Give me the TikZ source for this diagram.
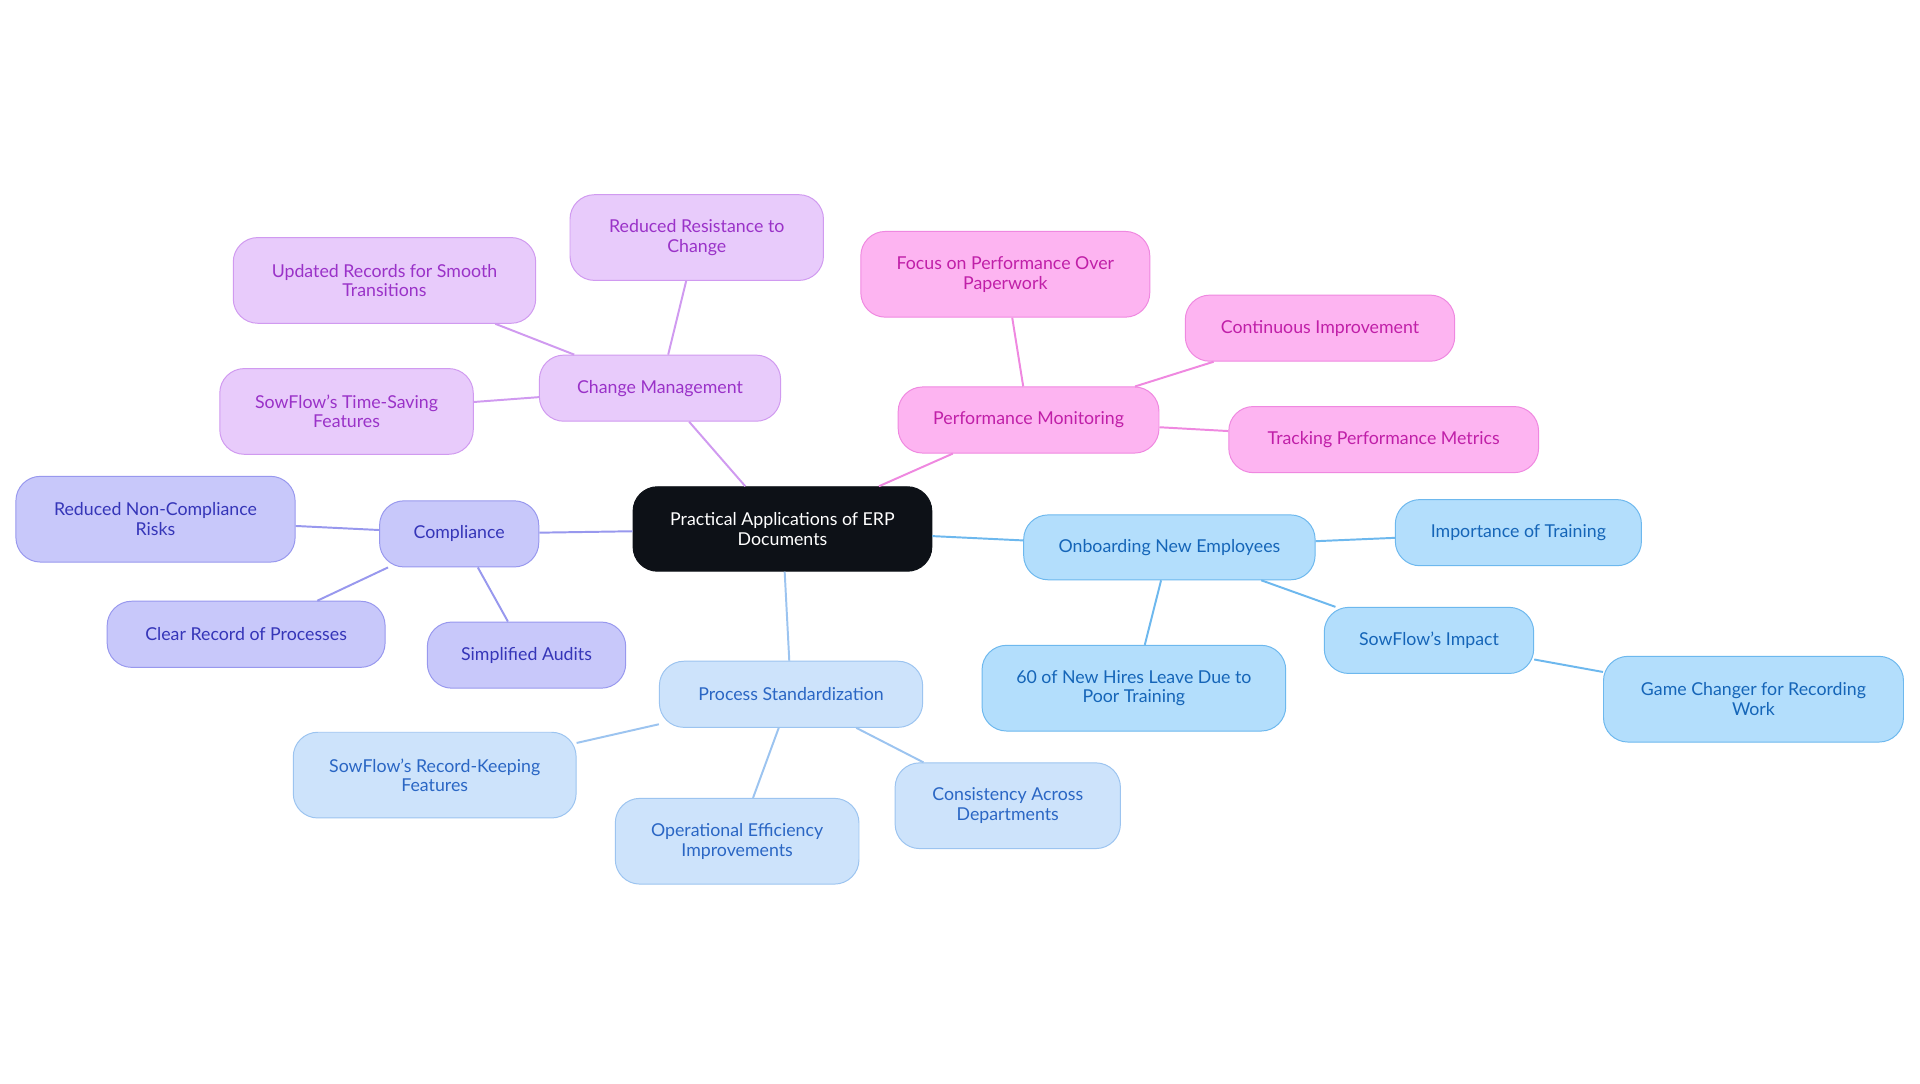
\documentclass[tikz,border=0pt]{standalone}
\usepackage{fontspec}
\setmainfont{Lato}
\usetikzlibrary{backgrounds}
\definecolor{cblk}{HTML}{0D1117}
\definecolor{obF}{HTML}{B3DEFC}\definecolor{obD}{HTML}{6DB8EE}\definecolor{obT}{HTML}{1565B8}
\definecolor{psF}{HTML}{CDE3FB}\definecolor{psD}{HTML}{9CC4F0}\definecolor{psT}{HTML}{2A66C4}
\definecolor{coF}{HTML}{C8C8FA}\definecolor{coD}{HTML}{9898EE}\definecolor{coT}{HTML}{3535B8}
\definecolor{cmF}{HTML}{E8CBFB}\definecolor{cmD}{HTML}{D09AF0}\definecolor{cmT}{HTML}{9A32C8}
\definecolor{pmF}{HTML}{FDB4F1}\definecolor{pmD}{HTML}{EF88E0}\definecolor{pmT}{HTML}{C01FA8}
\tikzset{
 x=1pt,y=-1pt,
 box/.style={rounded corners=20pt,align=center,font=\fontsize{14.5}{16}\selectfont,inner sep=0pt,line width=0.8pt},
 obx/.style={box,fill=obF,draw=obD,text=obT},
 psx/.style={box,fill=psF,draw=psD,text=psT},
 cox/.style={box,fill=coF,draw=coD,text=coT},
 cmx/.style={box,fill=cmF,draw=cmD,text=cmT},
 pmx/.style={box,fill=pmF,draw=pmD,text=pmT},
 edg/.style={line width=1.6pt},
}
\newcommand{\bx}[6]{\node[#1,minimum width=#4pt,minimum height=#5pt] (#2) at (#3) {#6};}
\begin{document}
\begin{tikzpicture}
\fill[white] (0,0) rectangle (1568,884.5);
\useasboundingbox (0,0) rectangle (1568,884.5);
\bx{box,fill=cblk,draw=cblk,text=white}{c}{639,432}{244}{69}{Practical Applications of ERP\\Documents}
\bx{obx}{ob}{955,447}{238}{53}{Onboarding New Employees}
\bx{obx}{ob1}{1240,435}{201}{54}{Importance of Training}
\bx{obx}{ob2}{1167,523}{171}{54}{SowFlow's Impact}
\bx{obx}{ob3}{1432,571}{245}{70}{Game Changer for Recording\\Work}
\bx{obx}{ob4}{926,562}{248}{70}{60 of New Hires Leave Due to\\Poor Training}
\bx{psx}{ps}{646,567}{215}{54}{Process Standardization}
\bx{psx}{ps1}{355,633}{231}{70}{SowFlow's Record-Keeping\\Features}
\bx{psx}{ps2}{602,687}{199}{70}{Operational Efficiency\\Improvements}
\bx{psx}{ps3}{823,658}{184}{70}{Consistency Across\\Departments}
\bx{cox}{co}{375,436}{130}{54}{Compliance}
\bx{cox}{co1}{127,424}{228}{70}{Reduced Non-Compliance\\Risks}
\bx{cox}{co2}{201,518}{227}{54}{Clear Record of Processes}
\bx{cox}{co3}{430,535}{162}{54}{Simplified Audits}
\bx{cmx}{cm}{539,317}{197}{54}{Change Management}
\bx{cmx}{cm1}{314,229}{247}{70}{Updated Records for Smooth\\Transitions}
\bx{cmx}{cm2}{569,194}{207}{70}{Reduced Resistance to\\Change}
\bx{cmx}{cm3}{283,336}{207}{70}{SowFlow's Time-Saving\\Features}
\bx{pmx}{pm}{840,343}{213}{54}{Performance Monitoring}
\bx{pmx}{pm1}{821,224}{236}{70}{Focus on Performance Over\\Paperwork}
\bx{pmx}{pm2}{1078,268}{220}{54}{Continuous Improvement}
\bx{pmx}{pm3}{1130,359}{253}{54}{Tracking Performance Metrics}
\draw[edg,obD] (c) -- (ob) (ob) -- (ob1) (ob) -- (ob2) (ob2) -- (ob3) (ob) -- (ob4);
\draw[edg,psD] (c) -- (ps) (ps) -- (ps1) (ps) -- (ps2) (ps) -- (ps3);
\draw[edg,coD] (c) -- (co) (co) -- (co1) (co) -- (co2) (co) -- (co3);
\draw[edg,cmD] (c) -- (cm) (cm) -- (cm1) (cm) -- (cm2) (cm) -- (cm3);
\draw[edg,pmD] (c) -- (pm) (pm) -- (pm1) (pm) -- (pm2) (pm) -- (pm3);
\end{tikzpicture}
\end{document}
